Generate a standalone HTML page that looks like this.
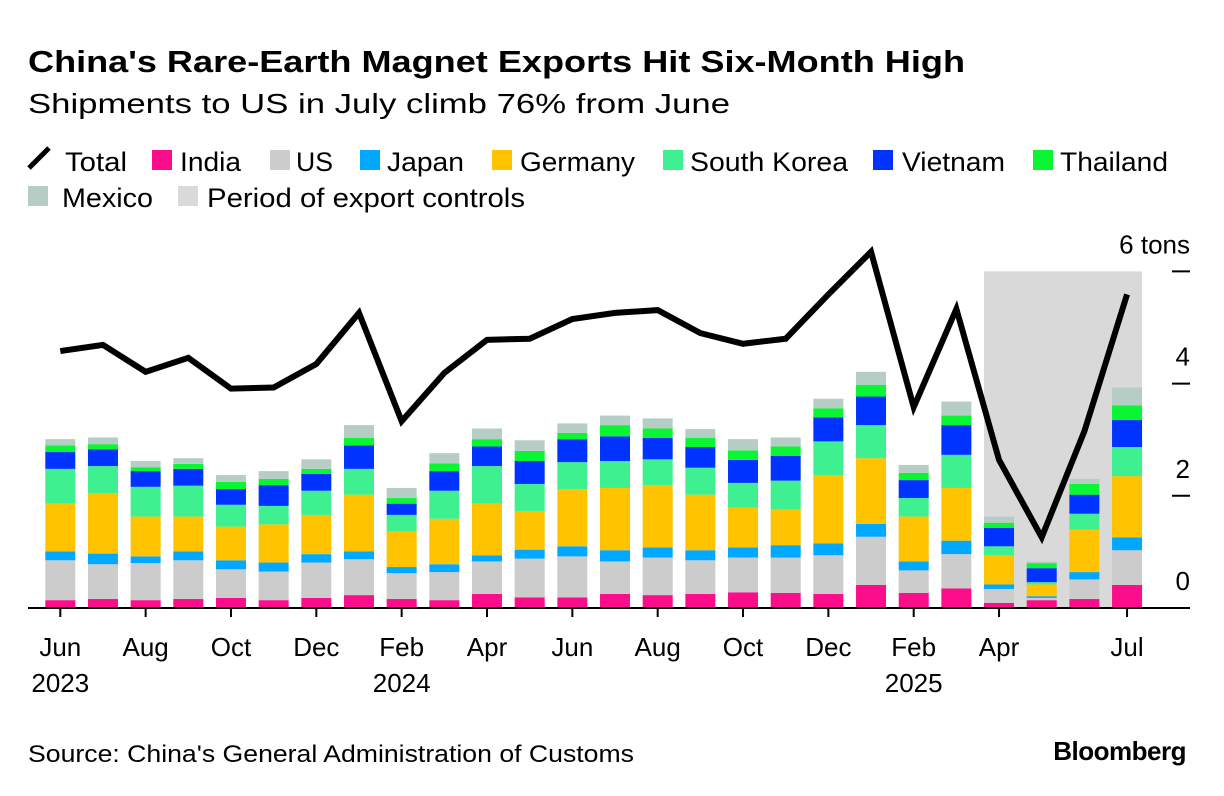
<!DOCTYPE html>
<html><head><meta charset="utf-8"><style>
body{margin:0;background:#fff}
svg{display:block;font-family:"Liberation Sans",Arial,sans-serif}
</style></head><body>
<svg id="chart" width="1224" height="796" viewBox="0 0 1224 796" xmlns="http://www.w3.org/2000/svg">
<text x="28" y="72" font-size="31" font-weight="bold" textLength="937" lengthAdjust="spacingAndGlyphs">China's Rare-Earth Magnet Exports Hit Six-Month High</text>
<text x="28" y="113" font-size="28" textLength="702" lengthAdjust="spacingAndGlyphs">Shipments to US in July climb 76% from June</text>
<g id="legend" font-size="27"></g>
<rect id="shade" fill="#d9d9d9"/>
<g id="bars"></g>
<path id="totalLine" fill="none" stroke="#000" stroke-width="6" stroke-linejoin="miter"/>
<g id="axes" font-size="26"></g>
<text x="28" y="762" font-size="24" textLength="606" lengthAdjust="spacingAndGlyphs">Source: China's General Administration of Customs</text>
<text x="1186" y="760" font-size="26" font-weight="bold" text-anchor="end" letter-spacing="-0.5">Bloomberg</text>
</svg>
<script>
const months = ["Jun 2023","Jul 2023","Aug 2023","Sep 2023","Oct 2023","Nov 2023","Dec 2023","Jan 2024","Feb 2024","Mar 2024","Apr 2024","May 2024","Jun 2024","Jul 2024","Aug 2024","Sep 2024","Oct 2024","Nov 2024","Dec 2024","Jan 2025","Feb 2025","Mar 2025","Apr 2025","May 2025","Jun 2025","Jul 2025"];
const india   = [.14,.16,.14,.16,.18,.14,.18,.23,.16,.14,.25,.19,.19,.25,.23,.25,.28,.27,.25,.41,.27,.35,.09,.14,.16,.41];
const us      = [.71,.62,.66,.69,.51,.51,.63,.64,.46,.50,.58,.69,.73,.58,.67,.60,.62,.63,.69,.86,.40,.61,.25,.04,.35,.62];
const japan   = [.16,.19,.12,.16,.16,.16,.15,.14,.11,.14,.11,.16,.18,.20,.18,.18,.18,.22,.21,.23,.16,.24,.08,.03,.13,.23];
const germany = [.85,1.08,.71,.62,.60,.68,.70,1.01,.63,.81,.92,.69,1.02,1.11,1.11,.99,.71,.63,1.22,1.17,.80,.94,.52,.21,.76,1.09];
const southKorea = [.62,.48,.53,.55,.39,.33,.43,.46,.30,.50,.67,.48,.48,.48,.46,.48,.44,.52,.60,.59,.33,.59,.16,.04,.28,.52];
const vietnam = [.30,.30,.28,.30,.28,.37,.30,.42,.20,.35,.35,.41,.41,.44,.38,.37,.41,.44,.43,.51,.32,.53,.33,.25,.34,.48];
const thailand= [.12,.09,.07,.09,.13,.11,.09,.13,.10,.14,.13,.18,.11,.20,.17,.16,.17,.17,.16,.21,.13,.17,.09,.09,.19,.26];
const mexico  = [.11,.12,.11,.10,.12,.14,.17,.23,.18,.18,.19,.19,.17,.17,.18,.16,.20,.16,.17,.23,.14,.25,.11,.03,.09,.32];
const total   = [4.58,4.69,4.21,4.46,3.91,3.93,4.35,5.26,3.33,4.19,4.78,4.80,5.15,5.26,5.31,4.90,4.71,4.80,5.59,6.35,3.58,5.33,2.64,1.26,3.15,5.59];
const yTicks = [0,2,4,6];
const xTickLabels = ["Jun","Aug","Oct","Dec","Feb","Apr","Jun","Aug","Oct","Dec","Feb","Apr","Jul"];
const xTickIdx = [0,2,4,6,8,10,12,14,16,18,20,22,25];
const yearLabels = ["2023","2024","2025"];
const yearIdx = [0,8,20];
const controlStart = 22, controlEnd = 25;

const NS="http://www.w3.org/2000/svg";
const x0=60.3, step=42.67, barW=30, base=608, perTon=56.1;
const x=i=>x0+i*step;
const y=v=>base-v*perTon;
function mk(tag,attrs,parent){const e=document.createElementNS(NS,tag);for(const k in attrs)e.setAttribute(k,attrs[k]);parent.appendChild(e);return e;}

const series=[["india",india,"#fc0d8a"],["us",us,"#cccccc"],["japan",japan,"#00a8ff"],["germany",germany,"#ffc300"],["south-korea",southKorea,"#3ef08f"],["vietnam",vietnam,"#0033ff"],["thailand",thailand,"#0af533"],["mexico",mexico,"#b6cdc5"]];

const shade=document.getElementById('shade');
shade.setAttribute('x',x(controlStart)-barW/2);
shade.setAttribute('width',x(controlEnd)-x(controlStart)+barW);
shade.setAttribute('y',y(6));
shade.setAttribute('height',base-y(6));

const bars=document.getElementById('bars');
months.forEach((m,i)=>{
  let cum=0;
  series.forEach(([name,arr,col])=>{
    const v=arr[i];
    const r=mk('rect',{x:x(i)-barW/2,y:y(cum+v),width:barW,height:v*perTon,fill:col},bars);
    
    
    cum+=v;
  });
});

document.getElementById('totalLine').setAttribute('d',total.map((v,i)=>(i?'L':'M')+x(i)+','+y(v)).join(''));

const axes=document.getElementById('axes');
const ax=mk('line',{x1:28,x2:1190,y1:base,y2:base,stroke:'#000','stroke-width':2},axes);


yTicks.forEach(t=>{
  const l=mk('line',{x1:1172,x2:1190,y1:y(t),y2:y(t),stroke:'#000','stroke-width':2},axes);
  
  
  const tx=mk('text',{x:1190,y:y(t)-18,'text-anchor':'end'},axes);
  tx.textContent=t===6?'6 tons':String(t);
  
  
});
xTickIdx.forEach((idx,k)=>{
  const l=mk('line',{x1:x(idx),x2:x(idx),y1:base,y2:base+9,stroke:'#000','stroke-width':2},axes);
  
  
  const tx=mk('text',{x:x(idx),y:656,'text-anchor':'middle'},axes);
  tx.textContent=xTickLabels[k];
  
  
});
yearIdx.forEach((idx,k)=>{
  const tx=mk('text',{x:x(idx),y:692,'text-anchor':'middle'},axes);
  tx.textContent=yearLabels[k];
  
  
});

const legend=document.getElementById('legend');
// label, colour, swatch x, text x, text width, baseline y
const leg=[["Total",null,29,65,62,171],["India","#fc0d8a",152,180,61,171],["US","#cccccc",270,296,37,171],["Japan","#00a8ff",360,387,77,171],["Germany","#ffc300",492,520,115,171],["South Korea","#3ef08f",663,690,158,171],["Vietnam","#0033ff",873,902,103,171],["Thailand","#0af533",1033,1060,108,171],["Mexico","#b6cdc5",28,62,91,207],["Period of export controls","#d9d9d9",178,207,318,207]];
leg.forEach(([lab,col,sx,tx0,tw,ly])=>{
  const g=mk('g',{},legend);
  
  
  if(!col){mk('line',{x1:29,y1:ly-3,x2:49,y2:ly-23,stroke:'#000','stroke-width':5},g);}
  else{mk('rect',{x:sx,y:ly-21,width:20,height:20,fill:col},g);}
  const t=mk('text',{x:tx0,y:ly,textLength:tw,lengthAdjust:'spacingAndGlyphs'},g);t.textContent=lab;
});
</script>
</body></html>
